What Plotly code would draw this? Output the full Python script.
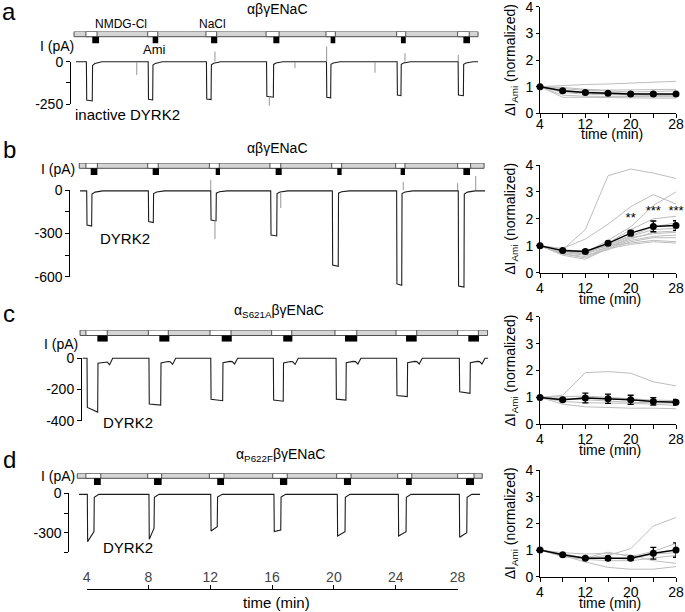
import plotly.graph_objects as go

W, H = 685, 612
FONT = "Arial, Liberation Sans, sans-serif"

# ======================= DATA =======================
time_ticks = [4, 8, 12, 16, 20, 24, 28]
right_ticktext = ["4", "", "12", "", "20", "", "28"]
right_yticks = [0, 1, 2, 3, 4]
left_xrange = [3, 30]

panel_letters = ["a", "b", "c", "d"]
panel_titles = ["αβγENaC", "αβγENaC", "α<sub>S621A</sub>βγENaC", "α<sub>P622F</sub>βγENaC"]
panel_labels = ["inactive DYRK2", "DYRK2", "DYRK2", "DYRK2"]

# ---- panel a (current trace, min / pA) ----
a_bar_span = [3.18, 29.33]
a_nacl_on = [3.95, 7.95, 11.72, 15.61, 19.49, 24.06, 28.01]
a_nacl_off = [4.67, 8.60, 12.41, 16.45, 20.09, 24.65, 28.76]
a_ami_on = [4.36, 8.27, 12.05, 16.08, 19.79, 24.34, 28.38]
a_ami_off = [4.80, 8.63, 12.45, 16.47, 20.09, 24.65, 28.81]
a_trace_span = [3.31, 29.33]
a_baseline = 0
a_drop = [3.98, 7.98, 11.75, 15.64, 19.52, 24.09, 28.04]
a_return = [4.36, 8.27, 12.05, 16.08, 19.79, 24.34, 28.38]
a_depth_start = [-226, -222, -220, -205, -210, -197, -197]
a_depth_end = [-232, -226, -224, -210, -214, -201, -201]
a_after = [-22, -20, -18, -16, -15, -15, -15]
a_recovery_dt = [0.0, 0.15, 0.6]
a_recovery_frac = [1.0, 0.5, 0.0]
a_spike_t = [7.24, 12.30, 15.82, 17.48, 19.53, 22.66, 24.60, 28.05]
a_spike_from = [0, 0, -205, 0, 0, 0, 0, 0]
a_spike_to = [-78, 60, -260, -38, 90, -65, 50, 40]

# ---- panel b ----
b_bar_span = [3.52, 29.72]
b_nacl_on = [3.95, 7.95, 11.94, 15.86, 19.86, 24.00, 28.01]
b_nacl_off = [4.69, 8.63, 12.58, 16.56, 20.50, 24.60, 28.85]
b_ami_on = [4.26, 8.27, 12.35, 16.23, 20.22, 24.32, 28.38]
b_ami_off = [4.69, 8.68, 12.63, 16.62, 20.50, 24.60, 28.81]
b_trace_span = [3.57, 29.78]
b_baseline = -6
b_drop = [4.00, 7.99, 12.03, 15.91, 19.90, 24.06, 28.05]
b_return = [4.32, 8.31, 12.37, 16.30, 20.28, 24.39, 28.42]
b_depth_start = [-242, -219, -208, -311, -519, -650, -664]
b_depth_end = [-250, -226, -214, -318, -528, -660, -672]
b_after = [-28, -25, -22, -25, -22, -25, -28]
b_recovery_dt = [0.0, 0.2, 0.7]
b_recovery_frac = [1.0, 0.4, 0.0]
b_spike_t = [12.03, 12.30, 16.56, 24.49, 28.01, 29.18]
b_spike_from = [0, -208, -20, 0, 0, 0]
b_spike_to = [70, -340, -125, 57, 48, 97]

# ---- panel c ----
c_bar_span = [3.57, 29.95]
c_nacl_on = [3.95, 7.99, 11.98, 15.97, 20.07, 24.02, 28.01]
c_nacl_off = [5.33, 9.28, 13.34, 17.27, 21.48, 25.36, 29.35]
c_ami_on = [4.69, 8.70, 12.74, 16.72, 20.72, 24.67, 28.70]
c_ami_off = [5.36, 9.35, 13.39, 17.31, 21.51, 25.36, 29.39]
c_trace_span = [3.74, 29.99]
c_baseline = 0
c_drop = [4.02, 8.03, 12.03, 16.08, 20.14, 24.06, 28.12]
c_return = [4.71, 8.79, 12.80, 16.72, 20.78, 24.75, 28.81]
c_depth_start = [-315, -293, -263, -268, -262, -238, -215]
c_depth_end = [-345, -300, -272, -275, -268, -245, -225]
c_after = [-32, -30, -28, -30, -28, -28, -28]
c_recovery_dt = [0.0, 0.45, 0.6, 0.75, 0.95]
c_recovery_frac = [1.0, 0.7, 0.75, 1.3, 0.0]
c_spike_t = []
c_spike_from = []
c_spike_to = []

# ---- panel d ----
d_bar_span = [3.39, 29.60]
d_nacl_on = [3.95, 7.95, 11.94, 16.04, 20.18, 24.13, 28.01]
d_nacl_off = [4.91, 8.85, 12.89, 16.98, 21.11, 25.04, 29.07]
d_ami_on = [4.47, 8.36, 12.45, 16.51, 20.65, 24.67, 28.55]
d_ami_off = [4.91, 8.85, 12.89, 16.98, 21.11, 25.04, 29.07]
d_trace_span = [3.50, 29.46]
d_baseline = -8
d_drop = [4.04, 8.03, 12.03, 16.12, 20.22, 24.17, 28.12]
d_return = [4.47, 8.36, 12.45, 16.56, 20.72, 24.67, 28.60]
d_depth_start = [-368, -350, -287, -292, -325, -325, -335]
d_depth_end = [-292, -265, -254, -280, -292, -292, -300]
d_after = [-30, -30, -28, -28, -30, -30, -30]
d_recovery_dt = [0.0, 0.3]
d_recovery_frac = [1.0, 0.0]
d_spike_t = []
d_spike_from = []
d_spike_to = []

# ---- left y axis ticks ----
a_yticks = [0, -125, -250]
a_yticktext = ["0", "", "-250"]
b_yticks = [0, -150, -300, -450, -600]
b_yticktext = ["0", "", "-300", "", "-600"]
c_yticks = [0, -200, -400]
c_yticktext = ["0", "-200", "-400"]
d_yticks = [0, -150, -300, -450]
d_yticktext = ["0", "", "-300", ""]

# ---- right panels: normalized ΔI_Ami ----
ra_mean = [1.0, 0.85, 0.78, 0.75, 0.72, 0.72, 0.72]
ra_sem = [0.0, 0.05, 0.05, 0.04, 0.04, 0.05, 0.05]
ra_cells = [
    [1.0, 1.05, 1.08, 1.10, 1.13, 1.17, 1.20],
    [1.0, 0.60, 0.60, 0.58, 0.58, 0.57, 0.57],
    [1.0, 0.68, 0.64, 0.64, 0.62, 0.62, 0.62],
    [1.0, 0.86, 0.80, 0.78, 0.75, 0.72, 0.70],
    [1.0, 0.92, 0.86, 0.84, 0.80, 0.82, 0.84],
    [1.0, 0.97, 0.90, 0.87, 0.88, 0.88, 0.90],
    [1.0, 0.78, 0.72, 0.70, 0.67, 0.66, 0.65],
    [1.0, 0.82, 0.75, 0.72, 0.70, 0.70, 0.68],
]
rb_mean = [1.0, 0.82, 0.79, 1.09, 1.47, 1.72, 1.75]
rb_sem = [0.0, 0.04, 0.05, 0.07, 0.10, 0.20, 0.18]
rb_cells = [
    [1.0, 0.85, 1.60, 3.60, 3.85, 3.70, 3.50],
    [1.0, 0.90, 1.25, 1.80, 2.45, 2.90, 2.55],
    [1.0, 0.80, 0.75, 1.20, 1.70, 2.50, 3.00],
    [1.0, 0.75, 0.70, 1.10, 1.60, 2.00, 2.10],
    [1.0, 0.80, 0.75, 1.00, 1.35, 1.60, 1.65],
    [1.0, 0.70, 0.60, 0.95, 1.30, 1.45, 1.50],
    [1.0, 0.65, 0.50, 0.90, 1.20, 1.35, 1.40],
    [1.0, 0.75, 0.65, 0.85, 1.15, 1.30, 1.30],
    [1.0, 0.85, 0.80, 1.00, 1.10, 1.20, 1.15],
    [1.0, 0.70, 0.55, 0.90, 1.05, 1.15, 1.10],
    [1.0, 0.80, 0.70, 0.95, 1.25, 1.50, 1.55],
    [1.0, 0.78, 0.72, 1.05, 1.40, 1.70, 1.85],
]
rb_sig_time = [20, 24, 28]
rb_sig_y = [2.02, 2.26, 2.26]
rb_sig_text = ["**", "***", "***"]
rc_mean = [1.0, 0.91, 0.98, 0.95, 0.91, 0.85, 0.82]
rc_sem = [0.0, 0.05, 0.18, 0.17, 0.17, 0.14, 0.11]
rc_cells = [
    [1.0, 1.08, 1.92, 1.96, 1.90, 1.58, 1.43],
    [1.0, 0.75, 0.65, 0.62, 0.60, 0.60, 0.58],
    [1.0, 0.85, 0.80, 0.80, 0.78, 0.75, 0.70],
    [1.0, 0.95, 0.90, 0.85, 0.82, 0.80, 0.78],
    [1.0, 0.90, 1.00, 0.95, 0.90, 0.85, 0.85],
    [1.0, 1.02, 1.05, 1.00, 0.95, 0.90, 0.88],
]
rd_mean = [1.0, 0.82, 0.69, 0.69, 0.69, 0.88, 1.00]
rd_sem = [0.0, 0.04, 0.04, 0.06, 0.07, 0.22, 0.27]
rd_cells = [
    [1.0, 0.85, 0.70, 0.80, 1.05, 1.90, 2.22],
    [1.0, 0.80, 0.55, 0.35, 0.28, 0.28, 0.38],
    [1.0, 0.90, 0.85, 0.88, 0.80, 0.60, 0.50],
    [1.0, 0.85, 0.70, 0.92, 0.75, 0.95, 1.25],
    [1.0, 0.75, 0.65, 0.60, 0.60, 0.70, 0.80],
    [1.0, 0.80, 0.70, 0.70, 0.65, 0.85, 0.90],
]

# ======================= LAYOUT GEOMETRY (pixels) =======================
T4_PX, PX_PER_MIN = 86.7, 15.45
left_geom = [
    dict(zero=61.7, scale=42.3 / 250, dom=(42, 112), axis_x=70, bar=(31.5, 36.7, 43.5)),
    dict(zero=190.0, scale=86.7 / 600, dom=(172, 292), axis_x=69.3, bar=(163, 168.3, 175)),
    dict(zero=358.3, scale=62.4 / 400, dom=(342, 426), axis_x=81, bar=(330, 335.5, 341.7)),
    dict(zero=493.3, scale=39.4 / 300, dom=(478, 560), axis_x=68.3, bar=(473.3, 478.3, 485)),
]
right_ydom = [(6.7, 113.3), (165, 272.7), (316.7, 424.3), (470, 576.7)]
right_xdom = (540, 676)
right_label_standoff = [-6, -2, -2, -2]
right_xtitle_pos = [(612, 134), (610, 298.5), (610, 450), (610, 603)]

panels = []
for pfx in ["a", "b", "c", "d"]:
    g = globals()
    panels.append(dict(
        bar_span=g[pfx + "_bar_span"], nacl_on=g[pfx + "_nacl_on"], nacl_off=g[pfx + "_nacl_off"],
        ami_on=g[pfx + "_ami_on"], ami_off=g[pfx + "_ami_off"], span=g[pfx + "_trace_span"],
        base=g[pfx + "_baseline"], drop=g[pfx + "_drop"], ret=g[pfx + "_return"],
        d0=g[pfx + "_depth_start"], d1=g[pfx + "_depth_end"], after=g[pfx + "_after"],
        rdt=g[pfx + "_recovery_dt"], rfr=g[pfx + "_recovery_frac"],
        st=g[pfx + "_spike_t"], sf=g[pfx + "_spike_from"], sto=g[pfx + "_spike_to"],
        yt=g[pfx + "_yticks"], ytt=g[pfx + "_yticktext"],
    ))
right_panels = [
    (ra_mean, ra_sem, ra_cells), (rb_mean, rb_sem, rb_cells),
    (rc_mean, rc_sem, rc_cells), (rd_mean, rd_sem, rd_cells),
]


def fx(px):
    return px / W


def fy(px):
    return 1 - px / H


def tpx(t):
    return T4_PX + (t - 4) * PX_PER_MIN


def build_trace(p):
    xs, ys = [p["span"][0]], [p["base"]]
    for i in range(len(p["drop"])):
        xs += [p["drop"][i], p["drop"][i] + 0.02, p["ret"][i], p["ret"][i] + 0.02]
        ys += [p["base"], p["d0"][i], p["d1"][i], p["after"][i]]
        for dt, fr in zip(p["rdt"][1:], p["rfr"][1:]):
            xs.append(p["ret"][i] + 0.02 + dt)
            ys.append(p["base"] + (p["after"][i] - p["base"]) * fr)
    xs.append(p["span"][1])
    ys.append(p["base"])
    return xs, ys


fig = go.Figure()
layout = dict(
    template="none",
    width=W, height=H, margin=dict(l=0, r=0, t=0, b=0, pad=0, autoexpand=False),
    paper_bgcolor="white", plot_bgcolor="rgba(0,0,0,0)", showlegend=False,
    barmode="overlay", font=dict(family=FONT, size=14, color="black"),
)
counters = {"x": 0, "y": 0}


def new_axis(kind, cfg):
    counters[kind] += 1
    n = counters[kind]
    cfg.setdefault("automargin", False)
    layout[(kind + "axis") if n == 1 else f"{kind}axis{n}"] = cfg
    return kind if n == 1 else f"{kind}{n}"


def next_ref(kind, k=1):
    n = counters[kind] + k
    return kind if n == 1 else f"{kind}{n}"


# left shared time axis (hidden)
xl = new_axis("x", dict(domain=[fx(tpx(left_xrange[0])), fx(tpx(left_xrange[1]))],
                        range=left_xrange, visible=False, anchor="y"))

annotations = []
for i, p in enumerate(panels):
    G = left_geom[i]
    top, bot = G["dom"]
    yd = new_axis("y", dict(domain=[fy(bot), fy(top)],
                            range=[-(bot - G["zero"]) / G["scale"], (G["zero"] - top) / G["scale"]],
                            visible=False, anchor=xl))
    xs, ys = build_trace(p)
    fig.add_trace(go.Scatter(x=xs, y=ys, xaxis=xl, yaxis=yd, mode="lines",
                             line=dict(color="#1c1c1c", width=1.1), hoverinfo="skip"))
    sx, sy = [], []
    for t, f0, f1 in zip(p["st"], p["sf"], p["sto"]):
        sx += [t, t, None]
        sy += [f0, f1, None]
    if sx:
        fig.add_trace(go.Scatter(x=sx, y=sy, xaxis=xl, yaxis=yd, mode="lines",
                                 line=dict(color="#8a8a8a", width=0.9), hoverinfo="skip"))
    tmin = min(p["yt"])
    ya = new_axis("y", dict(domain=[fy(G["zero"] - tmin * G["scale"]), fy(G["zero"])],
                            range=[tmin, 0], anchor="free", position=fx(G["axis_x"]),
                            showline=True, linecolor="black", linewidth=1,
                            ticks="outside", ticklen=4, tickwidth=1, tickcolor="black",
                            tickvals=p["yt"], ticktext=p["ytt"], tickfont=dict(size=14),
                            showgrid=False, zeroline=False))
    fig.add_trace(go.Scatter(x=[None], y=[None], xaxis=xl, yaxis=ya, hoverinfo="skip"))
    B = G["bar"]
    yb = new_axis("y", dict(domain=[fy(B[2]), fy(B[0])], range=[B[2], B[0]],
                            visible=False, anchor=xl))
    yc, hb = (B[0] + B[1]) / 2, B[1] - B[0]
    ya_c, ha = (B[1] + B[2]) / 2, B[2] - B[1]
    fig.add_trace(go.Bar(orientation="h", base=[p["bar_span"][0]],
                         x=[p["bar_span"][1] - p["bar_span"][0]], y=[yc], width=[hb],
                         marker=dict(color="#d5d5d5", line=dict(color="#505050", width=1)),
                         xaxis=xl, yaxis=yb, hoverinfo="skip"))
    n = len(p["nacl_on"])
    fig.add_trace(go.Bar(orientation="h", base=p["nacl_on"],
                         x=[b - a for a, b in zip(p["nacl_on"], p["nacl_off"])],
                         y=[yc] * n, width=[hb] * n,
                         marker=dict(color="white", line=dict(color="#505050", width=1)),
                         xaxis=xl, yaxis=yb, hoverinfo="skip"))
    fig.add_trace(go.Bar(orientation="h", base=p["ami_on"],
                         x=[b - a for a, b in zip(p["ami_on"], p["ami_off"])],
                         y=[ya_c] * n, width=[ha] * n,
                         marker=dict(color="black", line=dict(color="black", width=0)),
                         xaxis=xl, yaxis=yb, hoverinfo="skip"))

# right panels
for i, (mean, sem, cells) in enumerate(right_panels):
    yr_ref = next_ref("y")
    xr_ref = next_ref("x")
    t0, t1 = right_ydom[i]
    new_axis("x", dict(domain=[fx(right_xdom[0]), fx(right_xdom[1])], range=[4, 28], anchor=yr_ref,
                       showline=True, linecolor="black", linewidth=1, ticks="outside", ticklen=4,
                       tickcolor="black", tickvals=time_ticks, ticktext=right_ticktext,
                       tickfont=dict(size=14), showgrid=False, zeroline=False,
                       ticklabeloverflow="allow", ticklabelstandoff=right_label_standoff[i]))
    new_axis("y", dict(domain=[fy(t1), fy(t0)], range=[0, 4], anchor=xr_ref,
                       showline=True, linecolor="black", linewidth=1, ticks="outside", ticklen=3,
                       tickcolor="black", tickvals=right_yticks, tickfont=dict(size=14),
                       showgrid=False, zeroline=False, ticklabeloverflow="allow",
                       title=dict(text="ΔI<sub>Ami</sub> (normalized)", font=dict(size=14), standoff=6)))
    for c in cells:
        fig.add_trace(go.Scatter(x=time_ticks, y=c, xaxis=xr_ref, yaxis=yr_ref, mode="lines",
                                 line=dict(color="#bdbdbd", width=1), hoverinfo="skip"))
    fig.add_trace(go.Scatter(x=time_ticks, y=mean, xaxis=xr_ref, yaxis=yr_ref, mode="lines+markers",
                             line=dict(color="black", width=1.5), marker=dict(color="black", size=7),
                             error_y=dict(type="data", array=sem, color="black", thickness=1.3, width=3),
                             cliponaxis=False, hoverinfo="skip"))
    if i == 1:
        fig.add_trace(go.Scatter(x=rb_sig_time, y=rb_sig_y, text=rb_sig_text, mode="text",
                                 textfont=dict(size=13), xaxis=xr_ref, yaxis=yr_ref,
                                 cliponaxis=False, hoverinfo="skip"))

# bottom time axis
yt_ref = next_ref("y")
xt_ref = next_ref("x")
new_axis("x", dict(domain=[fx(tpx(time_ticks[0])), fx(tpx(time_ticks[-1]))],
                   range=[time_ticks[0], time_ticks[-1]], anchor=yt_ref,
                   showline=True, linecolor="black", linewidth=1, ticks="inside", ticklen=4,
                   tickcolor="black", tickvals=time_ticks, tickfont=dict(size=14),
                   ticklabelposition="inside", ticklabeloverflow="allow",
                   showgrid=False, zeroline=False))
new_axis("y", dict(domain=[fy(589.3), fy(566)], range=[0, 1], visible=False, anchor=xt_ref))
fig.add_trace(go.Scatter(x=[None], y=[None], xaxis=xt_ref, yaxis=yt_ref, hoverinfo="skip"))


def ann(text, x, y, size, xanchor="center", yanchor="middle"):
    annotations.append(dict(text=text, x=fx(x), y=fy(y), xref="paper", yref="paper",
                            showarrow=False, font=dict(size=size, family=FONT, color="black"),
                            xanchor=xanchor, yanchor=yanchor))


letter_pos = [(9, 11), (9, 149), (9, 313), (9, 459)]
title_pos = [(277, 9), (277, 148), (279, 311), (280, 455)]
ipa_pos = [(76, 46), (77, 169), (80, 344), (77, 476)]
label_pos = [(127.5, 114), (125, 239), (128, 422), (127.5, 547)]
for i in range(4):
    ann(panel_letters[i], *letter_pos[i], 24)
    ann(panel_titles[i], *title_pos[i], 14)
    ann("I (pA)", *ipa_pos[i], 14, xanchor="right")
    ann(panel_labels[i], *label_pos[i], 15)
    ann("time (min)", *right_xtitle_pos[i], 14)
ann("NMDG-Cl", 120.5, 24, 12)
ann("NaCl", 212.5, 24, 12)
ann("Ami", 154, 49.5, 13)
ann("time (min)", 276, 602, 15)

layout["annotations"] = annotations
fig.update_layout(**layout)
fig.write_html(
    "out.html",
    config={"displayModeBar": False, "staticPlot": True},
    post_script="document.body.style.margin='0px';document.body.style.overflow='hidden';",
)
